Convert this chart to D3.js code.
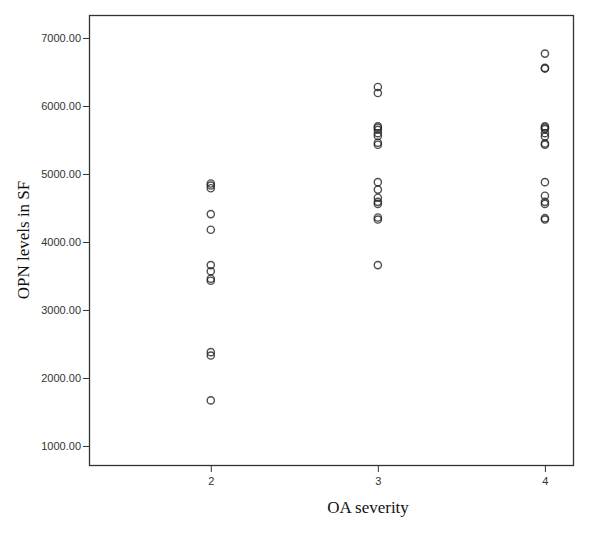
<!DOCTYPE html>
<html lang="en">
<head>
    <meta charset="utf-8">
    <title>OPN levels in SF by OA severity</title>
    <script src="https://cdn.jsdelivr.net/npm/d3@7/dist/d3.min.js"></script>
    <style>
        body { margin: 0; background: #fff; }
        .tick text { font-family: "Liberation Sans", Arial, sans-serif; font-size: 11px; fill: #333; }
        .axis-title { font-family: "Liberation Serif", "Times New Roman", serif; font-size: 17px; fill: #111; }
    </style>
</head>
<body>
<div id="chart"></div>
<script>
    // Valores
    var severity2 = [4860, 4830, 4790, 4410, 4180, 3660, 3570, 3460, 3430, 2380, 2330, 1670];
    var severity3 = [6280, 6190, 5700, 5680, 5650, 5600, 5560, 5460, 5430,
                     4880, 4770, 4650, 4590, 4560, 4360, 4330, 3660];
    var severity4 = [6770, 6560, 6550, 5700, 5680, 5660, 5600, 5550, 5450, 5430,
                     4880, 4680, 4590, 4560, 4350, 4330];
    var xTicks = [2, 3, 4];
    var yTicks = [1000, 2000, 3000, 4000, 5000, 6000, 7000];

    var points = [];
    [[2, severity2], [3, severity3], [4, severity4]].forEach(function(s) {
        s[1].forEach(function(v) { points.push({x: s[0], y: v}); });
    });

    var width = 600,
        height = 538,
        margin = {top: 15, right: 27, bottom: 73, left: 89};

    var svg = d3.select('#chart').append('svg')
        .attr('width', width)
        .attr('height', height);

    var x = d3.scaleLinear()
        .domain([1.271, 4.168])
        .range([margin.left, width - margin.right]);

    var y = d3.scaleLinear()
        .domain([720, 7338])
        .range([height - margin.bottom, margin.top]);

    // Eixos
    svg.append('g')
        .attr('transform', 'translate(0,' + (height - margin.bottom) + ')')
        .call(d3.axisBottom(x).tickValues(xTicks).tickFormat(d3.format('d')).tickSize(7).tickPadding(5))
        .call(function(g) { g.select('.domain').remove(); })
        .call(function(g) { g.selectAll('.tick line').attr('stroke', '#333'); });

    svg.append('g')
        .attr('transform', 'translate(' + margin.left + ',0)')
        .call(d3.axisLeft(y).tickValues(yTicks).tickFormat(d3.format('.2f')).tickSize(6).tickPadding(2))
        .call(function(g) { g.select('.domain').remove(); })
        .call(function(g) { g.selectAll('.tick line').attr('stroke', '#333'); });

    // Moldura
    svg.append('rect')
        .attr('x', margin.left + 0.5)
        .attr('y', margin.top + 0.5)
        .attr('width', width - margin.left - margin.right)
        .attr('height', height - margin.top - margin.bottom)
        .attr('fill', 'none')
        .attr('stroke', '#333')
        .attr('stroke-width', 1.3);

    // Pontos
    svg.append('g').selectAll('circle')
        .data(points)
        .enter()
        .append('circle')
        .attr('cx', function(d) { return x(d.x); })
        .attr('cy', function(d) { return y(d.y); })
        .attr('r', 3.6)
        .attr('fill', 'none')
        .attr('stroke', '#222')
        .attr('stroke-opacity', 0.8)
        .attr('stroke-width', 1.4);

    // Títulos
    svg.append('text')
        .attr('class', 'axis-title')
        .attr('x', 368)
        .attr('y', 513)
        .attr('text-anchor', 'middle')
        .text('OA severity');

    svg.append('text')
        .attr('class', 'axis-title')
        .attr('transform', 'translate(29,' + ((margin.top + height - margin.bottom) / 2) + ') rotate(-90)')
        .attr('text-anchor', 'middle')
        .text('OPN levels in SF');
</script>
</body>
</html>
